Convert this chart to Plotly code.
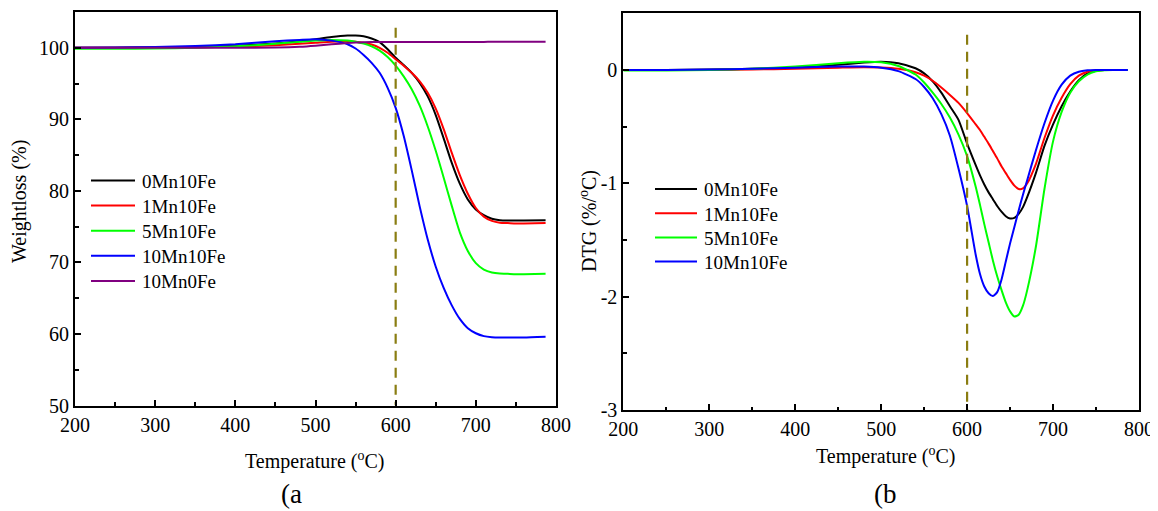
import plotly.graph_objects as go

# ---------------- data ----------------
T_TG = [200, 250, 300, 350, 400, 450, 480, 500, 520, 540, 550, 560, 570, 580, 590,
        600, 610, 620, 630, 640, 650, 660, 670, 680, 690, 700, 710, 720, 730, 740,
        750, 760, 787]
tg_0Mn10Fe = [100.0, 100.0, 100.05, 100.1, 100.3, 100.6, 100.9, 101.2, 101.5, 101.7,
              101.72, 101.6, 101.3, 100.8, 99.8, 98.6, 97.6, 96.5, 95.1, 93.2,
              90.6, 87.3, 83.9, 81.0, 78.8, 77.4, 76.6, 76.1, 75.9, 75.85,
              75.85, 75.85, 75.9]
tg_1Mn10Fe = [100.0, 100.0, 100.0, 100.05, 100.15, 100.35, 100.55, 100.7, 100.85, 100.9,
              100.85, 100.7, 100.45, 100.0, 99.3, 98.4, 97.5, 96.5, 95.3, 93.7,
              91.5, 88.6, 85.3, 82.2, 79.6, 77.6, 76.4, 75.8, 75.55, 75.5,
              75.45, 75.45, 75.5]
tg_5Mn10Fe = [99.85, 99.85, 99.9, 100.0, 100.2, 100.55, 100.85, 101.0, 101.1, 101.0,
              100.85, 100.6, 100.2, 99.6, 98.7, 97.5, 96.0, 94.2, 91.9, 89.0,
              85.6, 81.8, 77.9, 74.2, 71.6, 69.9, 69.0, 68.6, 68.45, 68.4,
              68.35, 68.35, 68.4]
tg_10Mn10Fe = [100.0, 100.05, 100.1, 100.25, 100.5, 100.9, 101.1, 101.2, 101.0, 100.5,
               99.9, 99.0, 97.9, 96.5, 94.4, 91.6, 87.7, 82.9, 77.8, 73.2,
               69.4, 66.4, 64.0, 62.1, 60.8, 60.1, 59.7, 59.55, 59.5, 59.5,
               59.5, 59.5, 59.6]
tg_10Mn0Fe = [100.0, 100.0, 100.0, 100.0, 100.0, 100.05, 100.15, 100.3, 100.5, 100.65,
              100.72, 100.78, 100.8, 100.8, 100.8, 100.8, 100.8, 100.8, 100.8, 100.8,
              100.8, 100.8, 100.8, 100.8, 100.8, 100.82, 100.82, 100.83, 100.83, 100.84,
              100.84, 100.85, 100.85]

T_DTG = [200, 250, 300, 350, 400, 450, 480, 500, 520, 540,
         550, 560, 570, 580, 590,
         600, 610, 615, 620, 625, 630, 635, 640, 645, 650,
         655, 660, 665, 670,
         680, 690, 700, 710, 720, 730, 740, 750, 760, 770, 787]
dtg_0Mn10Fe = [0.0, 0.0, 0.005, 0.01, 0.02, 0.045, 0.065, 0.073, 0.06, 0.015,
               -0.03, -0.1, -0.2, -0.32, -0.44,
               -0.65, -0.84, -0.93, -1.01, -1.08, -1.14, -1.2, -1.25, -1.29, -1.31,
               -1.305, -1.27, -1.21, -1.12,
               -0.91, -0.67, -0.48, -0.32, -0.19, -0.09, -0.03, -0.008, 0.0, 0.0, 0.0]
dtg_1Mn10Fe = [0.0, 0.0, 0.0, 0.005, 0.01, 0.02, 0.025, 0.022, 0.01, -0.02,
               -0.05, -0.095, -0.155, -0.22, -0.29,
               -0.38, -0.48, -0.53, -0.59, -0.65, -0.715, -0.78, -0.85, -0.91, -0.97,
               -1.02, -1.05, -1.045, -1.0,
               -0.83, -0.6, -0.4, -0.245, -0.125, -0.05, -0.015, -0.003, 0.0, 0.0, 0.0]
dtg_5Mn10Fe = [-0.005, -0.005, 0.0, 0.01, 0.03, 0.06, 0.073, 0.068, 0.035, -0.04,
               -0.11, -0.2, -0.3, -0.42, -0.57,
               -0.76, -1.03, -1.19, -1.36, -1.52, -1.68, -1.82, -1.94, -2.05, -2.13,
               -2.175, -2.16, -2.08, -1.94,
               -1.56, -1.05, -0.63, -0.37, -0.2, -0.1, -0.04, -0.012, -0.002, 0.0, 0.0]
dtg_10Mn10Fe = [0.0, 0.0, 0.005, 0.01, 0.02, 0.03, 0.03, 0.02, -0.01, -0.08,
                -0.15, -0.25, -0.39, -0.58, -0.87,
                -1.2, -1.63, -1.8, -1.91, -1.97, -1.995, -1.96, -1.85, -1.69, -1.53,
                -1.385, -1.24, -1.1, -0.97,
                -0.71, -0.47, -0.27, -0.13, -0.05, -0.015, -0.003, 0.0, 0.0, 0.0, 0.0]

marker_T = [600, 600]
marker_tg = [102.8, 50]
marker_dtg = [0.31, -3]

names_tg = ["0Mn10Fe", "1Mn10Fe", "5Mn10Fe", "10Mn10Fe", "10Mn0Fe"]
colors_tg = ["#000000", "#FF0000", "#00FF00", "#0000FF", "#800080"]
names_dtg = ["0Mn10Fe", "1Mn10Fe", "5Mn10Fe", "10Mn10Fe"]
colors_dtg = ["#000000", "#FF0000", "#00FF00", "#0000FF"]

x_ticks = [200, 300, 400, 500, 600, 700, 800]
x_ticklabels = ["200", "300", "400", "500", "600", "700", "800"]
tg_ticks = [50, 60, 70, 80, 90, 100]
tg_ticklabels = ["50", "60", "70", "80", "90", "100"]
dtg_ticks = [-3, -2, -1, 0]
dtg_ticklabels = ["-3", "-2", "-1", "0"]

# ---------------- figure ----------------
# the page body has an 8px default margin, so the figure is made 8px smaller
# and every pixel position (measured in the 1158x511 window) is shifted by 8px
OFF = 8
W, H = 1158 - OFF, 511 - OFF
FONT = "Liberation Serif, Times New Roman, serif"
OLIVE = "#8A7D12"
LINE_SPEC = dict(width=2, shape="spline", smoothing=0.6)


def px_x(p):
    return (p - OFF) / W


def px_y(p):
    return 1 - (p - OFF) / H


fig = go.Figure()

tg_series = [tg_0Mn10Fe, tg_1Mn10Fe, tg_5Mn10Fe, tg_10Mn10Fe, tg_10Mn0Fe]
for name, col, ys in zip(names_tg, colors_tg, tg_series):
    fig.add_trace(go.Scatter(x=T_TG, y=ys, name=name, mode="lines",
                             line=dict(color=col, **LINE_SPEC),
                             xaxis="x", yaxis="y", showlegend=False))
fig.add_trace(go.Scatter(x=marker_T, y=marker_tg, mode="lines", showlegend=False,
                         line=dict(color=OLIVE, width=2.2, dash="10px,7px"),
                         xaxis="x", yaxis="y", hoverinfo="skip"))

dtg_series = [dtg_0Mn10Fe, dtg_1Mn10Fe, dtg_5Mn10Fe, dtg_10Mn10Fe]
for name, col, ys in zip(names_dtg, colors_dtg, dtg_series):
    fig.add_trace(go.Scatter(x=T_DTG, y=ys, name=name, mode="lines",
                             line=dict(color=col, **LINE_SPEC),
                             xaxis="x2", yaxis="y2", showlegend=False))
fig.add_trace(go.Scatter(x=marker_T, y=marker_dtg, mode="lines", showlegend=False,
                         line=dict(color=OLIVE, width=2.2, dash="10px,7px"),
                         xaxis="x2", yaxis="y2", hoverinfo="skip"))

axis_common = dict(showline=True, linewidth=2, linecolor="black", mirror=True,
                   ticks="inside", ticklen=6, tickwidth=1.5, tickcolor="black",
                   showgrid=False, zeroline=False, automargin=False,
                   tickfont=dict(family=FONT, size=20, color="black"))

fig.update_layout(
    width=W, height=H, autosize=False,
    margin=dict(l=0, r=0, t=0, b=0, pad=0, autoexpand=False),
    paper_bgcolor="white", plot_bgcolor="white",
    font=dict(family=FONT, size=20, color="black"),
    showlegend=False,
    xaxis=dict(domain=[px_x(75), px_x(556)], range=[200, 800], anchor="y",
               tickvals=x_ticks, ticktext=x_ticklabels,
               minor=dict(ticks="inside", ticklen=3.5, tickwidth=1.5, dtick=50, tick0=200, tickcolor="black"),
               **axis_common),
    yaxis=dict(domain=[px_y(405.5), px_y(12)], range=[50, 105], anchor="x",
               tickvals=tg_ticks, ticktext=tg_ticklabels,
               minor=dict(ticks="inside", ticklen=3.5, tickwidth=1.5, dtick=5, tick0=50, tickcolor="black"),
               **axis_common),
    xaxis2=dict(domain=[px_x(623.3), px_x(1139)], range=[200, 800], anchor="y2",
                tickvals=x_ticks, ticktext=x_ticklabels,
                minor=dict(ticks="inside", ticklen=3.5, tickwidth=1.5, dtick=50, tick0=200, tickcolor="black"),
                **axis_common),
    yaxis2=dict(domain=[px_y(410), px_y(13.3)], range=[-3, 0.5], anchor="x2",
                tickvals=dtg_ticks, ticktext=dtg_ticklabels,
                minor=dict(ticks="inside", ticklen=3.5, tickwidth=1.5, dtick=0.5, tick0=-3, tickcolor="black"),
                **axis_common),
)

# legends (key line + label), placed in pixel positions
legend_left = dict(x0=91, x1=135, tx=140, y0=180.5, dy=25.1)
for i, (name, col) in enumerate(zip(names_tg, colors_tg)):
    yy = legend_left["y0"] + i * legend_left["dy"]
    fig.add_shape(type="line", xref="paper", yref="paper",
                  x0=px_x(legend_left["x0"]), x1=px_x(legend_left["x1"]),
                  y0=px_y(yy), y1=px_y(yy), line=dict(color=col, width=2))
    fig.add_annotation(text=name, x=px_x(legend_left["tx"]), y=px_y(yy + 1),
                       xref="paper", yref="paper", xanchor="left", yanchor="middle",
                       showarrow=False, font=dict(family=FONT, size=19, color="black"))

legend_right = dict(x0=655, x1=697, tx=702, y0=189, dy=24.2)
for i, (name, col) in enumerate(zip(names_dtg, colors_dtg)):
    yy = legend_right["y0"] + i * legend_right["dy"]
    fig.add_shape(type="line", xref="paper", yref="paper",
                  x0=px_x(legend_right["x0"]), x1=px_x(legend_right["x1"]),
                  y0=px_y(yy), y1=px_y(yy), line=dict(color=col, width=2))
    fig.add_annotation(text=name, x=px_x(legend_right["tx"]), y=px_y(yy + 1),
                       xref="paper", yref="paper", xanchor="left", yanchor="middle",
                       showarrow=False, font=dict(family=FONT, size=19, color="black"))

annots = [
    dict(text="Weightloss (%)", x=19, y=202, angle=-90, size=20),
    dict(text="DTG (%/<sup>o</sup>C)", x=589, y=221, angle=-90, size=20),
    dict(text="Temperature (<sup>o</sup>C)", x=314, y=460, angle=0, size=20),
    dict(text="Temperature (<sup>o</sup>C)", x=885, y=455, angle=0, size=20),
    dict(text="(a", x=291, y=494, angle=0, size=27),
    dict(text="(b", x=885, y=494, angle=0, size=27),
]
for a in annots:
    fig.add_annotation(text=a["text"], x=px_x(a["x"]), y=px_y(a["y"]),
                       xref="paper", yref="paper",
                       xanchor="center", yanchor="middle", showarrow=False,
                       textangle=a["angle"],
                       font=dict(family=FONT, size=a["size"], color="black"))

fig.write_html("out.html")
